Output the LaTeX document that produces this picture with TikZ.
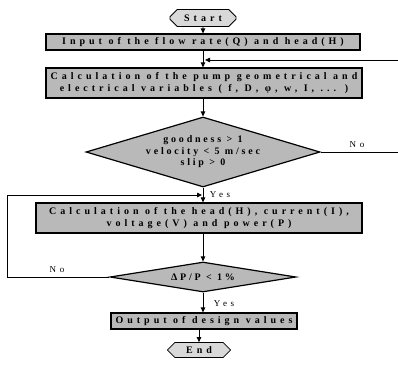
\documentclass[tikz,border=0pt]{standalone}
\usepackage{fontspec}
\newfontfamily\flowfont{Liberation Serif}[LetterSpace=40]
\newfontfamily\checkfont{Liberation Serif}[LetterSpace=28]
\usepackage{tikz}
\usetikzlibrary{shapes.geometric, shapes.misc}
\usetikzlibrary{arrows.meta}
\tikzset{
	process/.style={ % grey boxes
			draw,
			very thick,
			fill=gray!55,
			inner sep=1pt,
			align=center,
			font=\flowfont\bfseries\fontsize{10}{12.5}\selectfont
		},
	terminal/.style={ % Start and End
			draw,
			thick,
			fill=gray!30,
			chamfered rectangle,
			chamfered rectangle xsep=5pt,
			inner sep=1pt,
			font=\flowfont\bfseries\fontsize{10}{12}\selectfont
		},
	decision/.style={
			draw,
			very thick,
			fill=gray!55,
			diamond,
			inner sep=-4pt,
			align=center,
			font=\checkfont\bfseries\fontsize{10}{11.5}\selectfont
		},
	answer/.style={font=\flowfont\fontsize{9}{10}\selectfont, inner sep=1pt},
	flow/.style={draw, thick, -{Triangle[length=5pt, width=4.5pt]}},
	line/.style={draw, thick}
}

\begin{document}
\begin{tikzpicture}[x=1pt, y=-1pt]
			\useasboundingbox (0,0) rectangle (398,365);
			% Nodes
			\node (start) [terminal, minimum width=66pt, minimum height=17pt] at (203,18) {Start};
			\node (input) [process, minimum width=314pt, minimum height=16pt] at (203,42) {Input of the flow rate(Q) and head(H)};
			\node (calc1) [process, minimum width=316pt, minimum height=30pt] at (204,83) {Calculation of the pump geometrical and\\ electrical variables ( f, D, φ, w, I, ... )};
			\node (check1) [decision, aspect=3.34, minimum width=234pt, minimum height=70pt] at (203,152) {goodness > 1\\ velocity < 5 m/sec\\ slip > 0};
			\node (calc2) [process, minimum width=326pt, minimum height=30pt] at (199,218) {Calculation of the head(H), current(I),\\ voltage(V) and power(P)};
			\node (check2) [decision, aspect=6.2, minimum width=186pt, minimum height=30pt] at (203,277) {ΔP/P < 1\%};
			\node (output) [process, minimum width=186pt, minimum height=16pt] at (204,321) {Output of design values};
			\node (finish) [terminal, minimum width=63pt, minimum height=15pt] at (199,350) {End};

			\node (no1) [answer] at (357,145) {No};
			\node (yes1) [answer] at (220,195) {Yes};
			\node (no2) [answer] at (57,270) {No};
			\node (yes2) [answer] at (224,304) {Yes};

			\coordinate (fbright) at (398,60);
			\coordinate (fbjoin) at (input.south |- fbright);
			\coordinate (loopleft) at (7,277);
			\coordinate (yesjoin) at (203,195);

			% Lines
			\path[flow] (start) -- (input);
			\path[flow] (input.south) -- (input.south |- calc1.north);
			\path[flow] (calc1.south -| check1.north) -- (check1.north);
			\path[flow] (check1.south) -- (check1.south |- calc2.north);
			\path[flow] (calc2.south -| check2.north) -- (check2.north);
			\path[flow] (check2.south) -- (check2.south |- output.north);
			\path[flow] (output.south -| finish.north) -- (finish.north);

			\path[line] (check1.east) -- (check1.east -| fbright);
			\path[flow] (fbright) -- ([xshift=2pt]fbjoin);
			\path[flow] (check2.west) -- (loopleft) |- ([xshift=-1pt]yesjoin);
		\end{tikzpicture}
\end{document}
